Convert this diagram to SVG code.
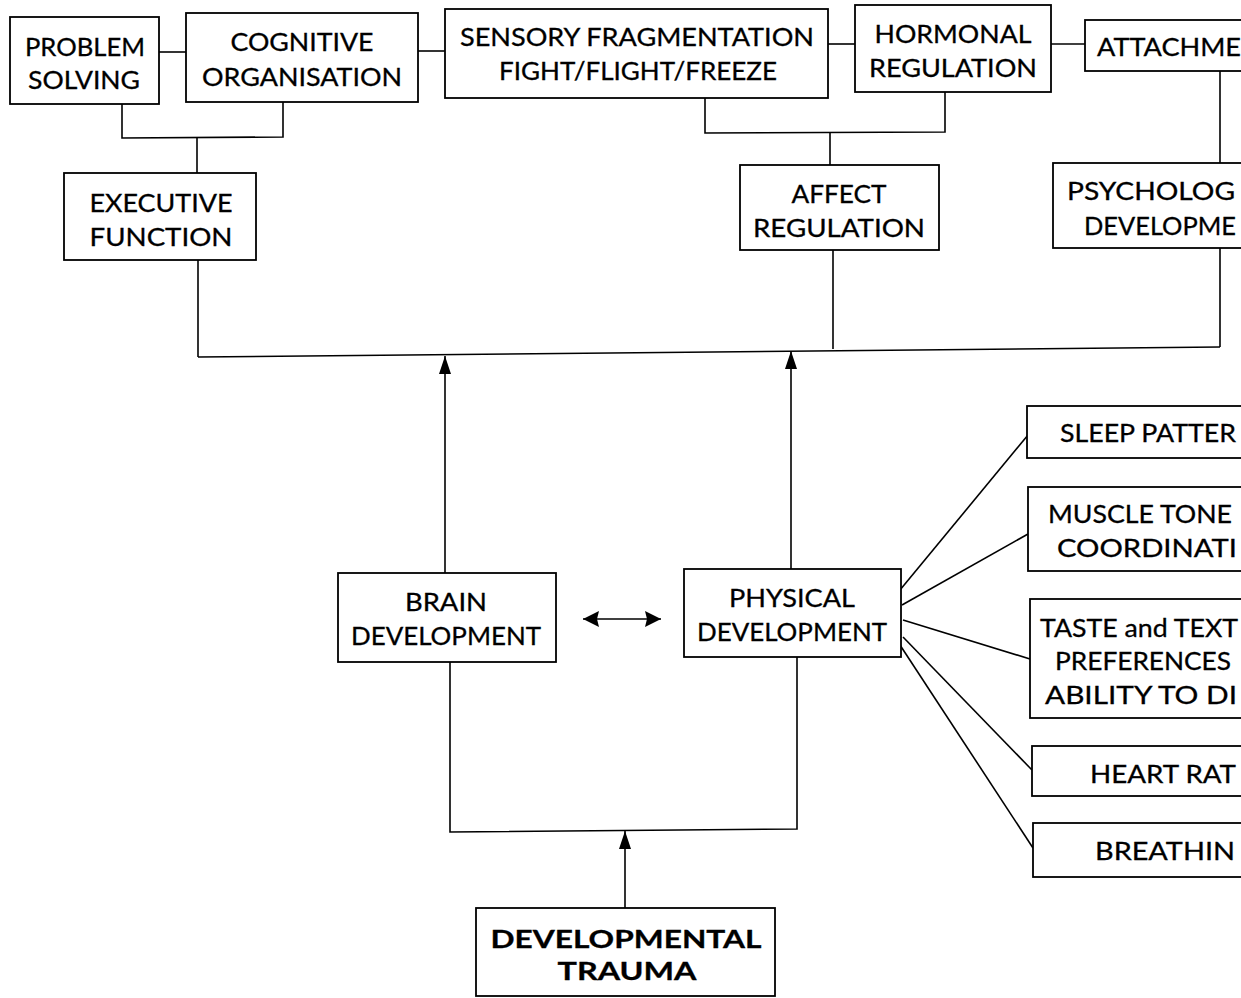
<svg xmlns="http://www.w3.org/2000/svg" width="1241" height="998" viewBox="0 0 1241 998">
<style>
.box{fill:#fff;stroke:#000;stroke-width:1.8}
.ln{fill:none;stroke:#000;stroke-width:1.6}
text{font-family:"Lato","Liberation Sans",sans-serif;font-size:25px;fill:#000;stroke:#000;stroke-width:0.3}
.c{text-anchor:middle}
.b{font-weight:bold}
</style>
<defs>
<marker id="ah" markerUnits="userSpaceOnUse" markerWidth="20" markerHeight="14" refX="18" refY="6" orient="auto-start-reverse">
<path d="M0,0 L18,6 L0,12 z" fill="#000"/>
</marker>
<marker id="ah2" markerUnits="userSpaceOnUse" markerWidth="18" markerHeight="18" refX="16" refY="8" orient="auto-start-reverse">
<path d="M0,0 L16,8 L0,16 L2,8 z" fill="#000"/>
</marker>
</defs>
<rect width="1241" height="998" fill="#fff"/>
<g id="connectors">
<line class="ln" x1="159" y1="52" x2="186" y2="52"/>
<line class="ln" x1="418" y1="51" x2="445" y2="51"/>
<line class="ln" x1="828" y1="44" x2="855" y2="44"/>
<line class="ln" x1="1051" y1="44" x2="1085" y2="44"/>
<polyline class="ln" points="122,104 122,138 283,137 283,102"/>
<line class="ln" x1="197" y1="138" x2="197" y2="173"/>
<polyline class="ln" points="705,98 705,133 945,132 945,92"/>
<line class="ln" x1="830" y1="133" x2="830" y2="165"/>
<line class="ln" x1="1220" y1="71" x2="1220" y2="163"/>
<line class="ln" x1="198" y1="260" x2="198" y2="357"/>
<line class="ln" x1="833" y1="250" x2="833" y2="349"/>
<line class="ln" x1="1220" y1="248" x2="1220" y2="347"/>
<line class="ln" x1="198" y1="357" x2="1220" y2="347"/>
<line class="ln" x1="445" y1="573" x2="445" y2="356" marker-end="url(#ah)"/>
<line class="ln" x1="791" y1="569" x2="791" y2="351" marker-end="url(#ah)"/>
<line class="ln" x1="583" y1="619" x2="661" y2="619" stroke-width="2" marker-start="url(#ah2)" marker-end="url(#ah2)"/>
<polyline class="ln" points="450,662 450,832 797,829 797,657"/>
<line class="ln" x1="625" y1="908" x2="625" y2="831" marker-end="url(#ah)"/>
<line class="ln" x1="900" y1="590" x2="1028" y2="435"/>
<line class="ln" x1="902" y1="605" x2="1028" y2="534"/>
<line class="ln" x1="903" y1="620" x2="1030" y2="659"/>
<line class="ln" x1="903" y1="637" x2="1032" y2="770"/>
<line class="ln" x1="900" y1="645" x2="1033" y2="848"/>
</g>
<g id="problem-solving"><rect class="box" x="10" y="17" width="149" height="87"/>
<text class="c" x="85" y="56" textLength="120" lengthAdjust="spacingAndGlyphs">PROBLEM</text><text class="c" x="84" y="89" textLength="112" lengthAdjust="spacingAndGlyphs">SOLVING</text></g>
<g id="cognitive-organisation"><rect class="box" x="186" y="13" width="232" height="89"/>
<text class="c" x="302" y="51" textLength="143" lengthAdjust="spacingAndGlyphs">COGNITIVE</text><text class="c" x="302" y="86" textLength="200" lengthAdjust="spacingAndGlyphs">ORGANISATION</text></g>
<g id="sensory-fragmentation"><rect class="box" x="445" y="9" width="383" height="89"/>
<text class="c" x="637" y="46" textLength="354" lengthAdjust="spacingAndGlyphs">SENSORY FRAGMENTATION</text><text class="c" x="638" y="80" textLength="278" lengthAdjust="spacingAndGlyphs">FIGHT/FLIGHT/FREEZE</text></g>
<g id="hormonal-regulation"><rect class="box" x="855" y="5" width="196" height="87"/>
<text class="c" x="953" y="43" textLength="157" lengthAdjust="spacingAndGlyphs">HORMONAL</text><text class="c" x="953" y="77" textLength="168" lengthAdjust="spacingAndGlyphs">REGULATION</text></g>
<g id="attachment"><rect class="box" x="1085" y="20" width="180" height="51"/>
<text x="1097" y="56" textLength="144" lengthAdjust="spacingAndGlyphs">ATTACHME</text></g>
<g id="executive-function"><rect class="box" x="64" y="173" width="192" height="87"/>
<text class="c" x="161" y="212" textLength="143" lengthAdjust="spacingAndGlyphs">EXECUTIVE</text><text class="c" x="161" y="246" textLength="143" lengthAdjust="spacingAndGlyphs">FUNCTION</text></g>
<g id="affect-regulation"><rect class="box" x="740" y="165" width="199" height="85"/>
<text class="c" x="839" y="203" textLength="95" lengthAdjust="spacingAndGlyphs">AFFECT</text><text class="c" x="839" y="237" textLength="172" lengthAdjust="spacingAndGlyphs">REGULATION</text></g>
<g id="psychological-development"><rect class="box" x="1053" y="163" width="210" height="85"/>
<text x="1067" y="200" textLength="168" lengthAdjust="spacingAndGlyphs">PSYCHOLOG</text><text x="1084" y="235" textLength="152" lengthAdjust="spacingAndGlyphs">DEVELOPME</text></g>
<g id="brain-development"><rect class="box" x="338" y="573" width="218" height="89"/>
<text class="c" x="446" y="611" textLength="82" lengthAdjust="spacingAndGlyphs">BRAIN</text><text class="c" x="446" y="645" textLength="190" lengthAdjust="spacingAndGlyphs">DEVELOPMENT</text></g>
<g id="physical-development"><rect class="box" x="684" y="569" width="217" height="88"/>
<text class="c" x="792" y="607" textLength="126" lengthAdjust="spacingAndGlyphs">PHYSICAL</text><text class="c" x="792" y="641" textLength="190" lengthAdjust="spacingAndGlyphs">DEVELOPMENT</text></g>
<g id="sleep-patterns"><rect class="box" x="1027" y="406" width="240" height="52"/>
<text x="1060" y="442" textLength="176" lengthAdjust="spacingAndGlyphs">SLEEP PATTER</text></g>
<g id="muscle-tone"><rect class="box" x="1028" y="487" width="240" height="84"/>
<text x="1048" y="523" textLength="184" lengthAdjust="spacingAndGlyphs">MUSCLE TONE</text><text x="1057" y="557" textLength="180" lengthAdjust="spacingAndGlyphs">COORDINATI</text></g>
<g id="taste-texture"><rect class="box" x="1030" y="599" width="240" height="119"/>
<text x="1040" y="637" textLength="198" lengthAdjust="spacingAndGlyphs">TASTE and TEXT</text><text x="1055" y="670" textLength="176" lengthAdjust="spacingAndGlyphs">PREFERENCES</text><text x="1045" y="704" textLength="192" lengthAdjust="spacingAndGlyphs">ABILITY TO DI</text></g>
<g id="heart-rate"><rect class="box" x="1032" y="746" width="240" height="50"/>
<text x="1090" y="783" textLength="146" lengthAdjust="spacingAndGlyphs">HEART RAT</text></g>
<g id="breathing"><rect class="box" x="1033" y="823" width="240" height="54"/>
<text x="1095" y="860" textLength="140" lengthAdjust="spacingAndGlyphs">BREATHIN</text></g>
<g id="developmental-trauma"><rect class="box" x="476" y="908" width="299" height="88"/>
<text class="c b" x="626" y="948" textLength="271" lengthAdjust="spacingAndGlyphs">DEVELOPMENTAL</text><text class="c b" x="627" y="980" textLength="139" lengthAdjust="spacingAndGlyphs">TRAUMA</text></g>
</svg>
